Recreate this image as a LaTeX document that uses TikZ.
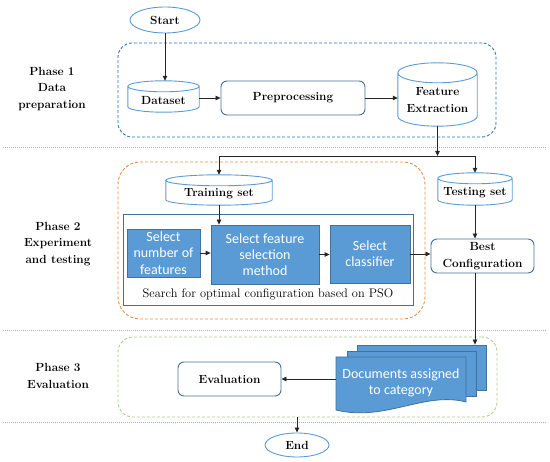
\documentclass[tikz,border=0pt]{standalone}
\usepackage{fontspec}
\newfontfamily\calfont{Carlito}
\usetikzlibrary{arrows.meta,shapes.geometric,calc}
\definecolor{lblue}{HTML}{5B9BD5}
\definecolor{dblue}{HTML}{41719C}
\definecolor{pblue}{HTML}{2E75B6}
\definecolor{porange}{HTML}{F08A40}
\definecolor{pgreen}{HTML}{A9D18E}
\definecolor{sepgray}{HTML}{B0B0B0}
\definecolor{fill1}{HTML}{5B9BD5}
\newcommand\cylshape[2]{% node name, ry
  \draw[cylline] let \p1=(#1.north west), \p2=(#1.south east), \n1={(\x2-\x1)/2} in
    (\x1,\y1-#2pt) -- (\x1,\y2+#2pt)
    arc[start angle=180,end angle=360,x radius=\n1,y radius=#2pt]
    -- (\x2,\y1-#2pt)
    (\x1+\n1,\y1-#2pt) ellipse[x radius=\n1,y radius=#2pt];}
\begin{document}
\begin{tikzpicture}[x=1pt,y=-1pt,
  every node/.style={font=\rmfamily\fontsize{12.4}{16.5}\selectfont},
  bfont/.style={font=\rmfamily\bfseries\fontsize{11.8}{16.5}\selectfont},
  lbl/.style={bfont, align=center, inner sep=0pt},
  phaselbl/.style={bfont, align=center},
  phasebox/.style={draw, dash pattern=on 3pt off 2pt, line width=0.9pt},
  rbox/.style={draw=dblue, line width=0.9pt, rounded corners=6pt, bfont, align=center, inner sep=0pt},
  oval/.style={ellipse, draw=lblue, line width=0.9pt, bfont, inner sep=0pt},
  cylbox/.style={inner sep=0pt},
  cylline/.style={draw=lblue, line width=0.9pt},
  bbox/.style={draw=dblue, fill=fill1, line width=0.8pt, text=white, font=\calfont\fontsize{14}{16.3}\selectfont, align=center, inner sep=0pt},
  page/.style={draw=dblue, fill=fill1, line width=0.8pt, inner sep=0pt},
  arr/.style={draw=black!85, line width=0.8pt, -{Triangle[length=5pt,width=4.5pt]}},
  ln/.style={draw=black!85, line width=0.8pt},
  sep/.style={draw=sepgray, line width=0.6pt, dash pattern=on 1pt off 1pt}]
\useasboundingbox (0,0) rectangle (550,462);

% separators
\draw[sep] (3,147) -- (546,147);
\draw[sep] (3,330) -- (546,330);
\draw[sep] (3,422) -- (546,422);

% phase labels
\node[phaselbl] (l1) at (52,89) {Phase 1\\Data\\preparation};
\node[phaselbl] (l2) at (58,244) {Phase 2\\Experiment\\and testing};
\node[phaselbl] (l3) at (58,376) {Phase 3\\Evaluation};

% phase boxes
\node[phasebox, draw=pblue, rounded corners=14pt, minimum width=378pt, minimum height=94pt] (ph1) at (307,90) {};
\node[phasebox, draw=porange, rounded corners=22pt, minimum width=307pt, minimum height=157pt] (ph2) at (271.5,240.5) {};
\node[phasebox, draw=pgreen, rounded corners=15pt, minimum width=379pt, minimum height=80pt] (ph3) at (307.5,377) {};

% start
\node[oval, minimum width=70pt, minimum height=26pt] (start) at (165,20) {Start};

% phase 1
\node[cylbox, minimum width=71pt, minimum height=31pt] (ds) at (163.5,96.5) {};
\cylshape{ds}{5.5}
\node[lbl] (dsT) at (163.5,100) {Dataset};
\node[rbox, minimum width=144pt, minimum height=34pt] (pre) at (293,98) {Preprocessing};
\node[cylbox, minimum width=79pt, minimum height=63pt] (fe) at (437.5,94.5) {};
\cylshape{fe}{10}
\node[lbl] (feT) at (437.5,100) {Feature\\Extraction};

\draw[arr] (start) -- (start.south |- ds.north);
\draw[arr] (ds.east |- pre.west) -- (pre.west);
\draw[arr] (pre.east) -- (pre.east -| fe.west);

% phase 2
\node[cylbox, minimum width=106pt, minimum height=30pt] (train) at (219,190) {};
\cylshape{train}{5.5}
\node[lbl] (trainT) at (219,194) {Training set};
\node[cylbox, minimum width=74pt, minimum height=32pt] (test) at (475,189) {};
\cylshape{test}{5.5}
\node[lbl] (testT) at (475,193) {Testing set};

\coordinate (j) at (437.5,156);
\draw[arr] (fe.south) -- (j);
\draw[ln] (train.north |- j) -- (test.north |- j);
\draw[arr] (train.north |- j) -- (train.north);
\draw[arr] (test.north |- j) -- (test.north);

\node[draw=dblue, line width=0.9pt, minimum width=290pt, minimum height=91pt] (search) at (268,259.5) {};
\node[inner sep=0pt] (searchT) at (268,294) {Search for optimal configuration based on PSO};
\node[bbox, minimum width=73pt, minimum height=48pt] (snf) at (163.5,253) {Select\\number of\\features};
\node[bbox, minimum width=108pt, minimum height=59pt] (sfsm) at (265,254.5) {Select feature\\selection\\method};
\node[bbox, minimum width=80pt, minimum height=58pt] (sc) at (370,254) {Select\\classifier};
\node[rbox, minimum width=103pt, minimum height=34pt] (bc) at (482.5,256) {Best\\Configuration};

\draw[arr] (train.south) -- (train.south |- sfsm.north);
\draw[arr] (snf.east) -- (snf.east -| sfsm.west);
\draw[arr] (sfsm.east) -- (sfsm.east -| sc.west);
\draw[arr] (sc.east) -- (sc.east -| bc.west);
\draw[arr] (test.south) -- (test.south |- bc.north);

% phase 3
\node[page, minimum width=129pt, minimum height=45pt] (pg3) at (421.5,367.5) {};
\node[page, minimum width=129pt, minimum height=45pt] (pg2) at (411.5,373.5) {};
\coordinate (pg1w) at (336,379);
\draw[draw=dblue, fill=fill1, line width=0.8pt] (336,357) -- (466,357) -- (466,402)
  .. controls (425,391) and (385,422) .. (336,410) -- cycle;
\node[bbox, draw=none, fill=none] (docs) at (401,383) {Documents assigned\\to category};
\node[rbox, minimum width=103pt, minimum height=34pt] (eval) at (229.5,379) {Evaluation};

\draw[arr] (test.south |- bc.south) -- (test.south |- pg3.north);
\draw[arr] (pg1w) -- (eval.east);

\node[oval, minimum width=64pt, minimum height=24pt] (endn) at (297,445) {End};
\draw[arr] (ph3.south -| endn.north) -- (endn.north);
\end{tikzpicture}
\end{document}
